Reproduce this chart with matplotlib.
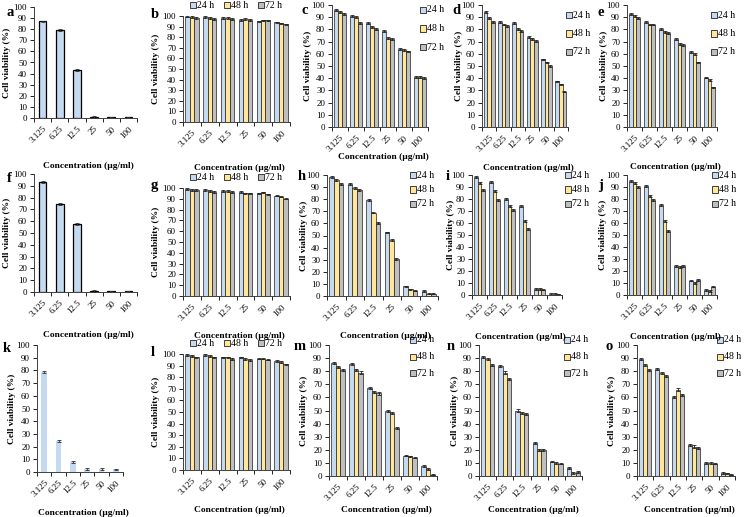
import matplotlib
matplotlib.use("Agg")
import matplotlib.pyplot as plt
from matplotlib.patches import Rectangle

plt.rcParams['font.family'] = ['Liberation Serif', 'DejaVu Serif']

W, H = 745, 517
conc = ["3.125", "6.25", "12.5", "25", "50", "100"]
times = ["24 h", "48 h", "72 h"]
colors = ["#C5D9F1", "#FFE699", "#BFBFBF"]

# single-series panels
a_vals = [87, 79, 43, 1, 0.5, 0.5]
f_vals = [93, 74.5, 58, 1, 0.5, 0.5]
k_vals = [79, 24.5, 7.5, 2.5, 2.5, 2]

# three-series panels: [24 h, 48 h, 72 h]
b_vals = [[99.5, 99, 98, 96, 95, 94], [99, 98, 98, 97, 96, 93], [98, 97, 97, 96, 96, 92]]
c_vals = [[96, 91, 85, 79, 64, 41], [94, 90, 82, 73, 63, 41], [93, 85, 80, 72, 62, 40]]
d_vals = [[94, 86, 85, 74, 55.5, 37.5], [89, 84, 80, 72, 53, 35], [86, 83, 79, 70.5, 50, 29]]
e_vals = [[93, 86, 80, 72, 61.5, 40.5], [91, 84, 78, 68, 60, 38.5], [89, 84, 77, 67, 53, 32.5]]
g_vals = [[99, 98, 97, 96, 95, 93], [98, 97, 97, 95, 96, 92], [98, 96, 96, 95, 94, 90]]
h_vals = [[98, 92.5, 79, 52.5, 8, 4], [96, 89, 69, 46, 5.5, 2], [92.5, 87.5, 60, 30.5, 4.5, 2]]
i_vals = [[98, 94.5, 80, 74, 5, 1], [93.5, 86.5, 74, 62, 5, 1], [87.5, 79, 71, 55, 4.5, 0.5]]
j_vals = [[95, 91, 75, 24.5, 12, 4], [93.5, 82.5, 61.5, 23.5, 10, 3.5], [90, 79.5, 53, 24, 12.5, 7]]
l_vals = [[99, 99, 97, 97, 96, 94], [98, 98, 97, 96, 96, 93], [97, 97, 96, 95, 95, 91]]
m_vals = [[86.5, 85.5, 67, 49.5, 15.5, 7.5], [83.5, 81, 64, 48, 15, 5.5], [81, 79, 63, 36.5, 14, 1]]
n_vals = [[91, 84, 50, 25, 11, 6], [89, 79, 48, 20, 10, 2.5], [85, 74, 47, 20, 9.5, 3]]
o_vals = [[89, 81.5, 60, 24, 10, 2.5], [85, 78.5, 66, 22.5, 10, 2], [81, 76, 61.5, 21.5, 9.5, 1]]

err = [0.8, 0.8, 0.8, 0.8, 0.6, 0.6]

TICK = 6.5
LAB = 6.8

fig = plt.figure(figsize=(W / 100, H / 100), dpi=100)

def fx(x):
    return x / W

def fy(y):
    return 1 - y / H

def make_ax(x0, x1, ytop, ybot):
    ax = fig.add_axes([fx(x0), fy(ybot), (x1 - x0) / W, (ybot - ytop) / H])
    ax.set_ylim(0, 100)
    ax.set_xlim(-0.5, 5.5)
    ax.set_yticks(range(0, 101, 10))
    ax.set_xticks(range(6))
    ax.set_xticklabels(conc, rotation=45, ha='right', rotation_mode='anchor')
    ax.set_xticks([x - 0.5 for x in range(7)], minor=True)
    ax.tick_params(axis='x', which='major', length=0, labelsize=TICK, pad=5)
    ax.tick_params(axis='x', which='minor', length=3, width=0.6, direction='out')
    ax.tick_params(axis='y', length=3, width=0.6, labelsize=TICK, pad=2)
    for s in ['top', 'right']:
        ax.spines[s].set_visible(False)
    for s in ['left', 'bottom']:
        ax.spines[s].set_linewidth(0.7)
        ax.spines[s].set_color('#404040')
    ax.set_facecolor('none')
    return ax

def labels(ax, letter, lpos, ylx, xly, x0, x1, ytop, ybot):
    fig.text(fx(lpos[0]), fy(lpos[1]), letter, fontsize=10.5, fontweight='bold', ha='left', va='center')
    fig.text(fx(ylx), fy((ytop + ybot) / 2), "Cell viability (%)", rotation=90, fontsize=LAB,
             fontweight='bold', ha='center', va='center')
    fig.text(fx((x0 + x1) / 2 + 3), fy(xly), "Concentration (µg/ml)", fontsize=LAB,
             fontweight='bold', ha='center', va='center')

def single(vals, box, letter, lpos, ylx, xly, edge=True, width=0.45):
    ax = make_ax(*box)
    ax.bar(range(6), vals, width=width, color=colors[0],
           edgecolor='black' if edge else 'none', linewidth=0.9,
           yerr=err, capsize=1.5, error_kw=dict(elinewidth=0.6, capthick=0.6, ecolor='#303030'))
    labels(ax, letter, lpos, ylx, xly, *box)
    return ax

def triple(vals, box, letter, lpos, ylx, xly, legend):
    ax = make_ax(*box)
    w = 0.25
    for s in range(3):
        ax.bar([x + (s - 1) * w for x in range(6)], vals[s], width=w, color=colors[s],
               edgecolor='#202020', linewidth=0.5,
               yerr=err, capsize=1.2, error_kw=dict(elinewidth=0.6, capthick=0.6, ecolor='#202020'))
    labels(ax, letter, lpos, ylx, xly, *box)
    kind, lx, ly, step = legend
    for s in range(3):
        if kind == 'h':
            x, y = lx + s * 34, ly
        else:
            x, y = lx, ly + s * step
        fig.patches.append(Rectangle((fx(x - 3), fy(y + 3)), 6 / W, 6 / H, transform=fig.transFigure,
                                     facecolor=colors[s], edgecolor='#202020', linewidth=0.6))
        fig.text(fx(x + 4), fy(y), times[s], fontsize=7, ha='left', va='center')
    return ax

# row 1
single(a_vals, (34, 137, 7, 118), 'a', (7, 13), 7, 166)
triple(b_vals, (183, 290, 16, 122), 'b', (151, 15), 156, 168, ('h', 193, 5, 0))
triple(c_vals, (332, 428, 5, 127), 'c', (301, 10), 308, 157, ('v', 423, 10, 18.5))
triple(d_vals, (482, 568, 5, 127), 'd', (452, 10), 459, 168, ('v', 569, 15, 18.5))
triple(e_vals, (627, 717, 5, 127), 'e', (598, 12), 604, 167, ('v', 714, 15, 18.5))

# row 2
single(f_vals, (34, 137, 174, 292), 'f', (7, 178), 7, 335)
triple(g_vals, (183, 290, 188, 296), 'g', (151, 186), 156, 336, ('h', 193, 177, 0))
triple(h_vals, (327, 438, 175, 296), 'h', (298, 177), 304, 336, ('v', 413, 175, 14.5))
triple(i_vals, (472, 562, 175, 295), 'i', (446, 177), 451, 337, ('v', 568, 175, 14.5))
triple(j_vals, (627, 717, 175, 295), 'j', (598, 185), 603, 337, ('v', 715, 175, 14.5))

# row 3
single(k_vals, (37, 123, 345, 472), 'k', (3, 348), 12, 513, edge=False, width=0.4)
triple(l_vals, (183, 290, 354, 470), 'l', (151, 352), 156, 510, ('h', 193, 343, 0))
triple(m_vals, (329, 437, 345, 476), 'm', (294, 347), 304, 510, ('v', 413, 340, 16.5))
triple(n_vals, (479, 582, 345, 476), 'n', (447, 347), 455, 510, ('v', 567, 340, 16.5))
triple(o_vals, (637, 735, 345, 476), 'o', (605, 347), 612, 510, ('v', 720, 340, 16.5))

fig.savefig("out.png", dpi=100)
